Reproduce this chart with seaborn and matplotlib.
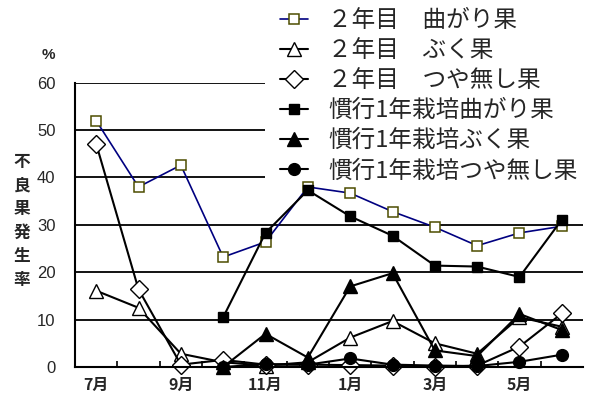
import numpy as np
import pandas as pd
import matplotlib
matplotlib.use("Agg")
import matplotlib.pyplot as plt
import seaborn as sns
from matplotlib.font_manager import FontProperties
from matplotlib.patches import Rectangle

# ---- data ----
months = ['7月', '8月', '9月', '10月', '11月', '12月', '1月', '2月', '3月', '4月', '5月', '6月']
tick_months = ['7月', '9月', '11月', '1月', '3月', '5月']
nan = np.nan
y2_magari = [52.0, 38.0, 42.6, 23.2, 26.4, 38.0, 36.7, 32.8, 29.5, 25.6, 28.3, 29.7]
y2_buku = [16.1, 12.5, 2.8, 1.0, 0.3, 1.0, 6.2, 9.7, 5.0, 2.8, 10.5, 8.5]
y2_tsuya = [47.1, 16.4, 0.5, 1.5, 0.5, 0.5, 0.4, 0.3, 0.0, 0.3, 4.3, 11.3]
k_magari = [nan, nan, nan, 10.5, 28.3, 37.3, 31.8, 27.7, 21.4, 21.2, 19.0, 31.1]
k_buku = [nan, nan, nan, 0.0, 7.0, 2.0, 17.0, 19.8, 3.5, 2.3, 11.2, 7.8]
k_tsuya = [nan, nan, nan, 0.0, 0.6, 0.5, 1.8, 0.5, 0.3, 0.2, 1.1, 2.6]
labels = ['２年目　曲がり果', '２年目　ぶく果', '２年目　つや無し果',
          '慣行1年栽培曲がり果', '慣行1年栽培ぶく果', '慣行1年栽培つや無し果']
yticks = [0, 10, 20, 30, 40, 50, 60]

sns.set_style("white")
plt.rcParams['font.family'] = ['Noto Sans CJK JP', 'DejaVu Sans']

fig = plt.figure(figsize=(5.9, 4.05), dpi=100)
W, H = 590, 405
ax = fig.add_axes([75 / W, 1 - 367 / H, (583 - 75) / W, (367 - 82.7) / H])

x = np.arange(len(months))
styles = [
    dict(marker='s', markersize=7.8, color='#000080', markerfacecolor='white',
         markeredgecolor='#4d4d00', markeredgewidth=1.1, linewidth=1.2),
    dict(marker='^', markersize=10.5, color='black', markerfacecolor='white',
         markeredgecolor='black', markeredgewidth=1.0, linewidth=1.5),
    dict(marker='D', markersize=9.5, color='black', markerfacecolor='white',
         markeredgecolor='black', markeredgewidth=1.0, linewidth=1.5),
    dict(marker='s', markersize=7.8, color='black', markerfacecolor='black',
         markeredgecolor='black', markeredgewidth=1.0, linewidth=1.5),
    dict(marker='^', markersize=10.5, color='black', markerfacecolor='black',
         markeredgecolor='black', markeredgewidth=1.0, linewidth=1.5),
    dict(marker='o', markersize=8.5, color='black', markerfacecolor='black',
         markeredgecolor='black', markeredgewidth=1.0, linewidth=1.5),
]
series = [y2_magari, y2_buku, y2_tsuya, k_magari, k_buku, k_tsuya]
for vals, lab, st in zip(series, labels, styles):
    df = pd.DataFrame({'x': x, 'y': vals}).dropna()
    sns.lineplot(data=df, x='x', y='y', ax=ax, label=lab, clip_on=False, **st)

ax.set_xlim(-0.5, 11.5)
ax.set_ylim(0, 60)
ax.set_yticks(yticks)
ax.set_yticklabels([str(v) for v in yticks], fontfamily='Liberation Sans', fontsize=12)
ax.set_xticks([0, 2, 4, 6, 8, 10])
ax.set_xticklabels(tick_months, fontsize=11.5, fontweight='bold')
ax.set_xticks(np.arange(0.5, 11.0, 1.0), minor=True)
ax.tick_params(axis='x', which='major', length=0, pad=7)
ax.tick_params(axis='x', which='minor', direction='in', length=4, width=1.2, color='black', bottom=True)
ax.tick_params(axis='y', length=0, pad=14)
ax.set_xlabel('')
ax.set_ylabel('')
ax.yaxis.grid(True, color='black', linewidth=1.3)
ax.xaxis.grid(False)
ax.set_axisbelow(True)
for s in ['top', 'right']:
    ax.spines[s].set_visible(False)
for s in ['left', 'bottom']:
    ax.spines[s].set_color('black')
    ax.spines[s].set_linewidth(1.5)

# white area behind the legend hiding the upper-right gridlines
ax.add_patch(Rectangle((265 / W, 1 - 180 / H), 1 - 265 / W, 180 / H, transform=fig.transFigure,
                       facecolor='white', edgecolor='none', zorder=1, clip_on=False))

leg = ax.legend(loc='upper left', bbox_to_anchor=(280 / W, 1.0 - 9 / H), bbox_transform=fig.transFigure,
                frameon=False,
                prop=FontProperties(family='Noto Sans CJK JP', size=17),
                handlelength=1.2, handletextpad=0.85, labelspacing=0.3,
                borderpad=0.0, borderaxespad=0)

fig.text(22 / W, 1 - 221 / H, "不\n良\n果\n発\n生\n率", ha='center', va='center',
         fontsize=12, fontweight='bold', linespacing=1.4)
fig.text(48 / W, 1 - 55 / H, "%", ha='center', va='center', fontsize=11, fontweight='bold',
         fontfamily='Liberation Sans')

fig.savefig('out.png', dpi=100)
